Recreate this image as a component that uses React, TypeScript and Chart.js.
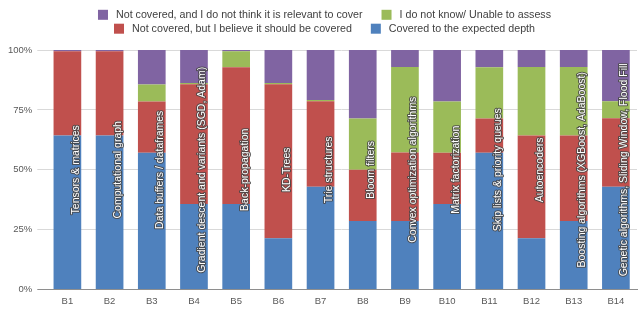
import { useEffect, useRef } from "react";
import { Chart, registerables } from "chart.js";

Chart.register(...registerables);

const categories = ["B1", "B2", "B3", "B4", "B5", "B6", "B7", "B8", "B9", "B10", "B11", "B12", "B13", "B14"];

const barLabels = [
  "Tensors & matrices",
  "Computational graph",
  "Data buffers / dataframes",
  "Gradient descent and variants (SGD, Adam)",
  "Back-propagation",
  "KD-Trees",
  "Trie structures",
  "Bloom filters",
  "Convex optimization algorithms",
  "Matrix factorization",
  "Skip lists & priority queues",
  "Autoencoders",
  "Boosting algorithms (XGBoost, AdaBoost)",
  "Genetic algorithms, Sliding Window, Flood Fill",
];

const seriesNames = [
  "Covered to the expected depth",
  "Not covered, but I believe it should be covered",
  "I do not know/ Unable to assess",
  "Not covered, and I do not think it is relevant to cover",
];

const covered = [64.3, 64.3, 57.1, 35.7, 35.7, 21.4, 42.9, 28.6, 28.6, 35.7, 57.1, 21.4, 28.6, 42.9];
const shouldBeCovered = [35.2, 35.2, 21.4, 50.0, 57.1, 64.3, 35.7, 21.4, 28.6, 21.4, 14.3, 42.9, 35.7, 28.6];
const unableToAssess = [0, 0, 7.1, 0.5, 6.7, 0.5, 0.5, 21.4, 35.7, 21.4, 21.4, 28.6, 28.6, 7.1];
const notRelevant = [0.5, 0.5, 14.4, 13.8, 0.5, 13.8, 20.9, 28.6, 7.1, 21.5, 7.2, 7.1, 7.1, 21.4];

const yTicks = [0, 25, 50, 75, 100];

const colors = ["#4F81BD", "#C0504D", "#9BBB59", "#8064A2"];

const FONT = '"Liberation Sans", Arial, sans-serif';

const legendPlugin = {
  id: "customLegend",
  afterDraw(chart: any) {
    const ctx = chart.ctx;
    ctx.save();
    ctx.font = `10.7px ${FONT}`;
    ctx.textBaseline = "middle";
    ctx.textAlign = "left";
    const rows = [[3, 2], [1, 0]];
    const rowY = [14.8, 28.7];
    const box = 10;
    const gapBT = 8;
    const gapItem = 19;
    rows.forEach((row, r) => {
      const widths = row.map((i) => box + gapBT + ctx.measureText(chart.data.datasets[i].label).width);
      const total = widths.reduce((a: number, b: number) => a + b, 0) + gapItem * (row.length - 1);
      let x = chart.width / 2 + 4 - total / 2;
      row.forEach((i, k) => {
        const ds = chart.data.datasets[i];
        ctx.fillStyle = ds.backgroundColor;
        ctx.fillRect(x, rowY[r] - box / 2, box, box);
        ctx.fillStyle = "#404040";
        ctx.fillText(ds.label, x + box + gapBT, rowY[r]);
        x += widths[k] + gapItem;
      });
    });
    ctx.restore();
  },
};

const barLabelPlugin = {
  id: "barLabels",
  afterDatasetsDraw(chart: any) {
    const ctx = chart.ctx;
    const meta = chart.getDatasetMeta(0);
    const yMid = chart.scales.y.getPixelForValue(50);
    ctx.save();
    ctx.font = `10.5px ${FONT}`;
    ctx.textAlign = "center";
    ctx.textBaseline = "middle";
    ctx.lineJoin = "round";
    meta.data.forEach((bar: any, i: number) => {
      ctx.save();
      ctx.translate(bar.x + 8.5, yMid);
      ctx.rotate(-Math.PI / 2);
      ctx.strokeStyle = "rgba(70,70,70,0.85)";
      ctx.lineWidth = 2;
      ctx.strokeText(barLabels[i], 0, 0);
      ctx.fillStyle = "#ffffff";
      ctx.fillText(barLabels[i], 0, 0);
      ctx.restore();
    });
    ctx.restore();
  },
};

export default function App() {
  const ref = useRef<HTMLCanvasElement | null>(null);

  useEffect(() => {
    if (!ref.current) return;
    const series = [covered, shouldBeCovered, unableToAssess, notRelevant];
    const chart = new Chart(ref.current, {
      type: "bar",
      data: {
        labels: categories,
        datasets: series.map((d, i) => ({
          label: seriesNames[i],
          data: d,
          backgroundColor: colors[i],
          borderWidth: 0,
          barPercentage: 0.656,
          categoryPercentage: 1,
        })),
      },
      options: {
        animation: false,
        responsive: false,
        layout: { padding: { left: 3, right: 4, top: 50, bottom: -4 } },
        plugins: {
          legend: { display: false },
          tooltip: { enabled: false },
        },
        scales: {
          x: {
            stacked: true,
            grid: { display: false, drawTicks: false },
            border: { display: true, color: "#8e8e8e" },
            ticks: { color: "#595959", font: { family: FONT, size: 9.5 }, padding: 6 },
          },
          y: {
            stacked: true,
            min: 0,
            max: 100,
            afterBuildTicks: (scale: any) => {
              scale.ticks = yTicks.map((v) => ({ value: v }));
            },
            grid: {
              color: (c: any) => (c.tick && c.tick.value === 0 ? "#8e8e8e" : "#d9d9d9"),
              tickLength: 9,
              drawTicks: true,
            },
            border: { display: false },
            ticks: {
              color: "#595959",
              font: { family: FONT, size: 9.5 },
              padding: 5,
              callback: (v: any) => `${v}%`,
            },
          },
        },
      },
      plugins: [legendPlugin, barLabelPlugin],
    });
    return () => chart.destroy();
  }, []);

  return (
    <div style={{ position: "fixed", left: 0, top: 0, width: 641, height: 309, background: "#fff" }}>
      <canvas ref={ref} width={641} height={309} style={{ display: "block" }} />
    </div>
  );
}
